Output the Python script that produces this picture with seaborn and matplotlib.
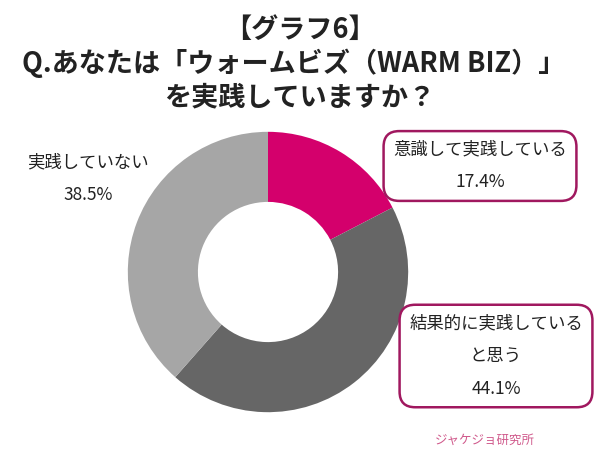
import matplotlib.pyplot as plt
import seaborn as sns

labels = ['意識して実践している', '結果的に実践している\nと思う', '実践していない']
shares = [17.4, 44.1, 38.5]
colors = ['#d4006c', '#666666', '#a6a6a6']

sns.set_style('white')
plt.rcParams['font.family'] = ['Noto Sans CJK JP', 'DejaVu Sans']

fig = plt.figure(figsize=(6, 4.69), dpi=100)
ax = fig.add_axes([118 / 600, 47 / 469, 300 / 600, 300 / 469])
ax.pie(shares, colors=colors, startangle=90, counterclock=False,
       wedgeprops=dict(width=0.5, edgecolor='none'))
ax.set_xlim(-1.07, 1.07)
ax.set_ylim(-1.07, 1.07)
ax.set_aspect('equal')
ax.axis('off')

# title
title_kw = dict(ha='center', va='center', fontsize=19.5, fontweight='bold',
                color='#222222')
fig.text(0.5, 1 - 30 / 469, '【グラフ6】', **title_kw)
fig.text(0.49, 1 - 63 / 469, 'Q.あなたは「ウォームビズ（WARM BIZ）」', **title_kw)
fig.text(0.5, 1 - 97 / 469, 'を実践していますか？', **title_kw)

box = dict(boxstyle='round,pad=0.55,rounding_size=0.9', fc='white',
           ec='#a0185f', lw=1.8)
lab_kw = dict(ha='center', va='center', fontsize=12.5, color='#222222',
              linespacing=2.05)

fig.text(480 / 600, 1 - 166 / 469, labels[0] + '\n' + f'{shares[0]}%',
         bbox=box, **lab_kw)
fig.text(496 / 600, 1 - 356 / 469, labels[1] + '\n' + f'{shares[1]}%',
         bbox=box, **lab_kw)
fig.text(88 / 600, 1 - 179 / 469, labels[2] + '\n' + f'{shares[2]}%',
         **lab_kw)

# logo
fig.text(485 / 600, 1 - 440 / 469, 'ジャケジョ研究所', ha='center', va='center',
         fontsize=9, color='#d05a8c', style='italic')

fig.savefig('out.png', dpi=100, facecolor='white')
